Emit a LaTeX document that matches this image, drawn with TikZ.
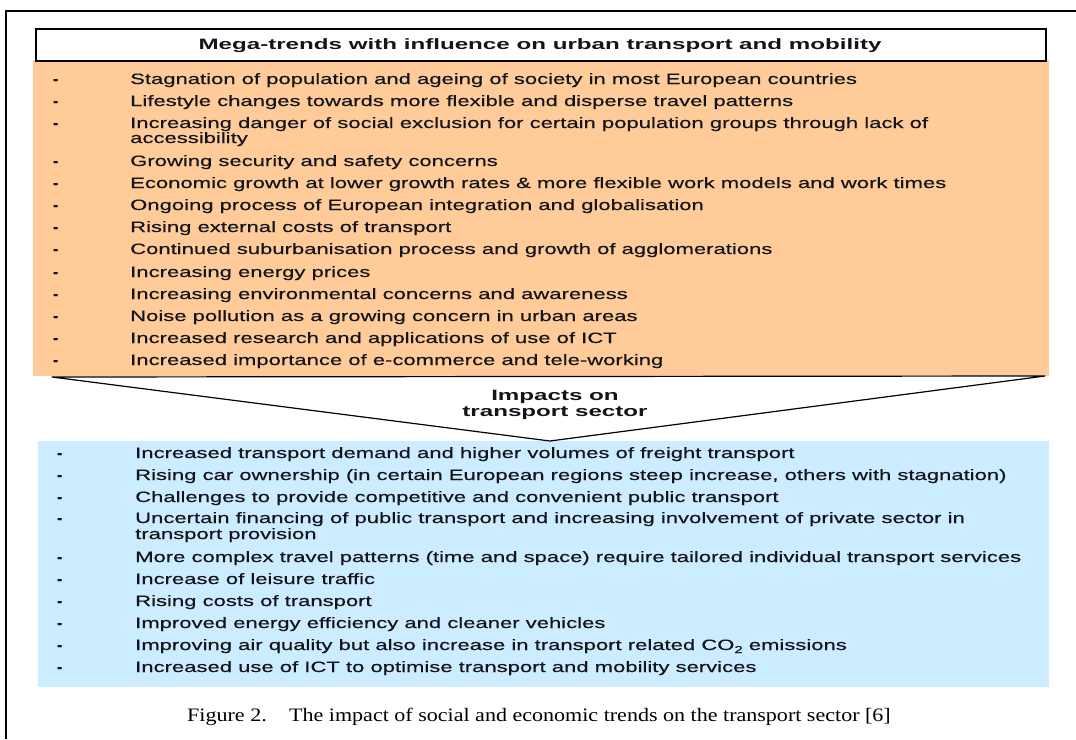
\documentclass[tikz,border=0pt]{standalone}
\usepackage{fontspec}
\newfontfamily\bodyfont[FakeStretch=1.47,FakeBold=0.4]{Liberation Sans}
\newfontfamily\bulfont[FakeBold=1.2]{Liberation Sans}
\newfontfamily\boldfont[FakeStretch=1.61]{Liberation Sans}
\newfontfamily\capfont[FakeStretch=1.16]{Liberation Serif}
\definecolor{orangefill}{RGB}{255,204,153}
\definecolor{bluefill}{RGB}{204,236,255}
\definecolor{txt}{RGB}{20,20,28}
\tikzset{
  itm/.style={anchor=base west, inner sep=0pt, text=txt, font=\bodyfont\fontsize{15}{15}\selectfont},
  bul/.style={anchor=base west, inner sep=0pt, text=txt, font=\bulfont\bfseries\fontsize{15}{15}\selectfont},
  hdr/.style={anchor=base, inner sep=0pt, text=txt, font=\boldfont\bfseries\fontsize{15}{15}\selectfont},
  captext/.style={anchor=base, inner sep=0pt, text=black, font=\capfont\fontsize{19}{19}\selectfont},
  frame/.style={draw=black, line width=1.1pt},
}
\begin{document}
\begin{tikzpicture}[x=1pt,y=-1pt]
\useasboundingbox (0,0) rectangle (1076,739);
% outer frame
\draw[frame] (6,739) -- (6,11) -- (1076,11);
% orange box and title
\fill[orangefill] (33,60) rectangle (1049,376);
\node[draw=black, line width=1.3pt, fill=white, minimum width=1010pt, minimum height=32pt, inner sep=0pt] (title) at (541,45) {};
\node[hdr] (titletext) at (540,49) {Mega-trends with influence on urban transport and mobility};
% blue box
\fill[bluefill] (38,441) rectangle (1049,687);
% arrow triangle
\coordinate (tl) at (52,377);
\coordinate (tr) at (1045,376);
\coordinate (tap) at (550,441);
\draw[fill=white, line width=1.2pt, line join=round] (tl) -- (tr) -- (tap) -- cycle;
\node[hdr] (imp1) at (555,400) {Impacts on};
\node[hdr] (imp2) at (555,416) {transport sector};
% orange items
\foreach \y/\t [count=\i] in {
 84/{Stagnation of population and ageing of society in most European countries},
 106/{Lifestyle changes towards more flexible and disperse travel patterns},
 128/{Increasing danger of social exclusion for certain population groups through lack of},
 166/{Growing security and safety concerns},
 188/{Economic growth at lower growth rates \& more flexible work models and work times},
 210/{Ongoing process of European integration and globalisation},
 232/{Rising external costs of transport},
 254/{Continued suburbanisation process and growth of agglomerations},
 277/{Increasing energy prices},
 299/{Increasing environmental concerns and awareness},
 321/{Noise pollution as a growing concern in urban areas},
 343/{Increased research and applications of use of ICT},
 365/{Increased importance of e-commerce and tele-working}}{
  \node[bul] (ob\i) at (53,\y) {-};
  \node[itm] (ot\i) at (130,\y) {\t};
}
\node[itm] (ot3b) at (130,143) {accessibility};
% blue items
\foreach \y/\t [count=\i] in {
 458/{Increased transport demand and higher volumes of freight transport},
 480/{Rising car ownership (in certain European regions steep increase, others with stagnation)},
 502/{Challenges to provide competitive and convenient public transport},
 523/{Uncertain financing of public transport and increasing involvement of private sector in},
 562/{More complex travel patterns (time and space) require tailored individual transport services},
 584/{Increase of leisure traffic},
 606/{Rising costs of transport},
 628/{Improved energy efficiency and cleaner vehicles},
 650/{Improving air quality but also increase in transport related CO\raisebox{-3pt}{\fontsize{10}{10}\selectfont 2} emissions},
 672/{Increased use of ICT to optimise transport and mobility services}}{
  \node[bul] (bb\i) at (57,\y) {-};
  \node[itm] (bt\i) at (135,\y) {\t};
}
\node[itm] (bt4b) at (135,539) {transport provision};
% caption
\node[captext] (caption) at (539,721) {Figure 2.\hspace{15pt} The impact of social and economic trends on the transport sector [6]};
\end{tikzpicture}
\end{document}
